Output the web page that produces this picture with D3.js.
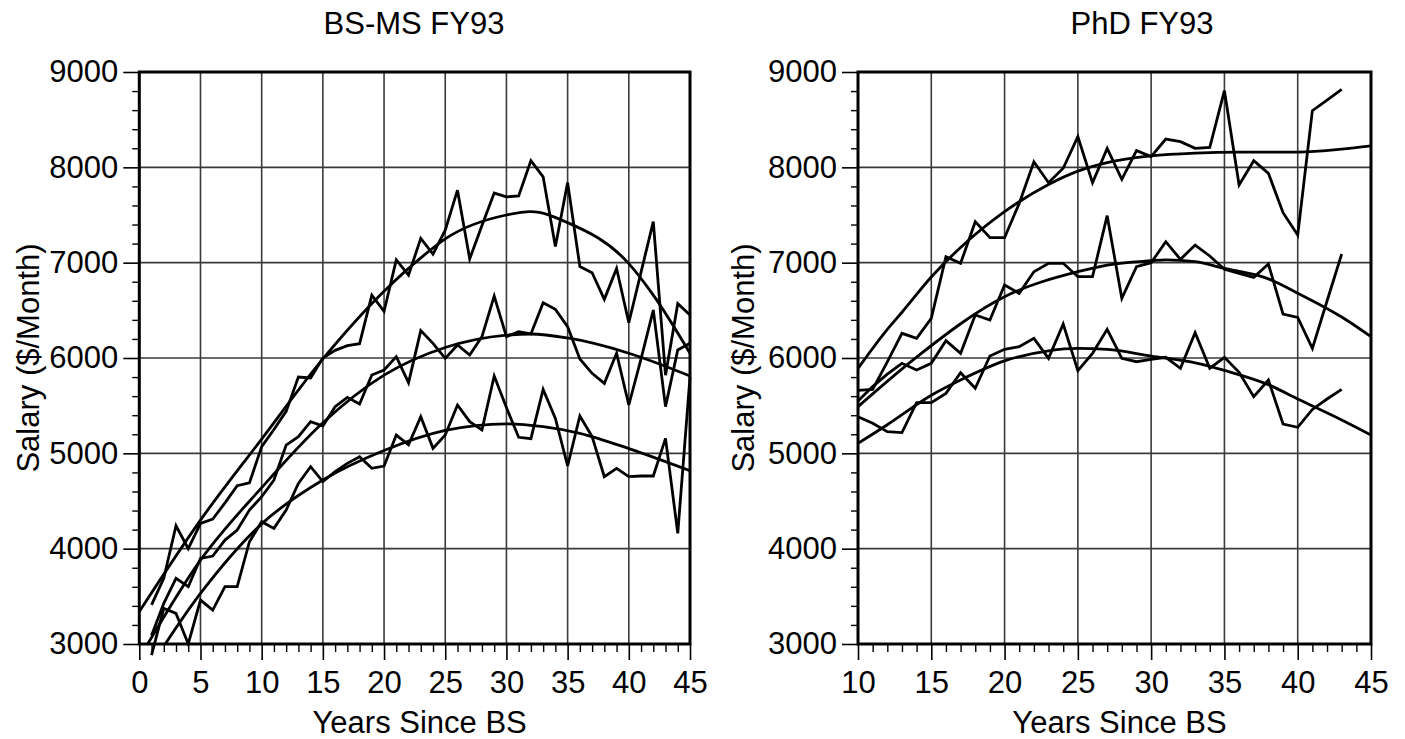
<!DOCTYPE html>
<html><head><meta charset="utf-8">
<script src="https://cdn.jsdelivr.net/npm/d3@7"></script>
<style>
body{margin:0;background:#fff}
svg{display:block}
text{font-family:"Liberation Sans",Arial,Helvetica,sans-serif;fill:#000}
</style>
</head><body>
<svg id="chart" width="1405" height="739"></svg>
<script>
// ---------- BS-MS FY93 ----------
const bsYears = [1,2,3,4,5,6,7,8,9,10,11,12,13,14,15,16,17,18,19,20,21,22,23,24,25,26,27,28,29,30,31,32,33,34,35,36,37,38,39,40,41,42,43,44,45];
const bsHigh = [3410,3690,4240,4000,4265,4310,4480,4660,4690,5070,5250,5440,5800,5790,6000,6080,6130,6150,6660,6490,7030,6870,7255,7090,7340,7760,7040,7390,7730,7690,7700,8070,7900,7170,7840,6960,6895,6615,6940,6370,6900,7430,5820,6570,6450];
const bsMid  = [3090,3426,3689,3601,3898,3923,4090,4196,4405,4545,4720,5087,5175,5332,5287,5489,5587,5517,5822,5874,6014,5741,6287,6154,5996,6136,6031,6224,6650,6224,6276,6252,6580,6510,6328,5990,5839,5734,6049,5507,5990,6503,5490,6084,6154];
const bsLow  = [2884,3374,3321,3000,3461,3356,3601,3601,4073,4283,4213,4405,4685,4860,4703,4808,4895,4965,4843,4867,5192,5090,5384,5052,5192,5507,5332,5245,5811,5480,5168,5154,5671,5367,4867,5392,5175,4755,4842,4755,4762,4762,5157,4161,5800];
const bsFitHighX = [0,5,10,15,20,23,25,30,32,35,40,42,45];
const bsFitHigh  = [3340,4300,5150,5990,6700,7050,7250,7500,7535,7420,6990,6660,6050];
const bsFitMidX  = [0,5,10,15,20,25,30,32,35,40,45];
const bsFitMid   = [2850,3880,4640,5320,5820,6110,6240,6252,6210,6050,5811];
const bsFitLowX  = [0,5,10,15,20,25,30,33,36,40,45];
const bsFitLow   = [2580,3530,4260,4720,5030,5240,5310,5280,5210,5050,4818];

// ---------- PhD FY93 ----------
const phdYears = [10,11,12,13,14,15,16,17,18,19,20,21,22,23,24,25,26,27,28,29,30,31,32,33,34,35,36,37,38,39,40,41,42,43];
const phdHigh = [5660,5670,5960,6259,6206,6416,7063,6993,7430,7262,7262,7622,8059,7839,7990,8322,7839,8199,7874,8175,8112,8297,8269,8199,8210,8804,7815,8070,7937,7524,7290,8594,8706,8818];
const phdMid  = [5550,5700,5830,5944,5874,5944,6182,6049,6451,6398,6766,6678,6905,6993,6993,6853,6853,7493,6626,6958,7000,7220,7035,7185,7070,6930,6888,6846,6986,6461,6426,6101,6598,7091];
const phdLow  = [5384,5315,5227,5217,5531,5531,5629,5846,5682,6021,6091,6119,6206,5996,6357,5867,6049,6301,5996,5961,5986,6007,5891,6266,5891,6007,5850,5594,5769,5307,5273,5460,5570,5671];
const phdFitHighX = [10,12,13,15,17,20,23,25,27,30,33,36,40,43,45];
const phdFitHigh  = [5890,6300,6480,6850,7160,7535,7820,7960,8050,8120,8150,8160,8160,8190,8225];
const phdFitMidX  = [10,14,20,25,27,30,31,33,35,38,40,43,45];
const phdFitMid   = [5490,6010,6643,6905,6975,7020,7030,7010,6940,6830,6680,6430,6224];
const phdFitLowX  = [10,12,15,17,20,23,25,27,30,33,35,38,40,43,45];
const phdFitLow   = [5105,5300,5610,5770,5970,6075,6100,6090,6020,5950,5870,5720,5570,5350,5192];

const yTicks = [3000,4000,5000,6000,7000,8000,9000];
const bsXTicks = [0,5,10,15,20,25,30,35,40,45];
const phdXTicks = [10,15,20,25,30,35,40,45];

const svg = d3.select('#chart');
const FS = 31;

const panels = [
  {title:'BS-MS FY93', titleX:414, x0:0, x1:45, left:139.3, right:690, xTicks:bsXTicks, ylabX:39,
   years:bsYears, raws:[bsHigh,bsMid,bsLow],
   fits:[[bsFitHighX,bsFitHigh],[bsFitMidX,bsFitMid],[bsFitLowX,bsFitLow]], id:'a'},
  {title:'PhD FY93', titleX:1142, x0:10, x1:45, left:858, right:1371, xTicks:phdXTicks, ylabX:754,
   years:phdYears, raws:[phdHigh,phdMid,phdLow],
   fits:[[phdFitHighX,phdFitHigh],[phdFitMidX,phdFitMid],[phdFitLowX,phdFitLow]], id:'b'}
];
const plotTop = 72, plotBottom = 644;

panels.forEach(p => {
  const x = d3.scaleLinear().domain([p.x0,p.x1]).range([p.left,p.right]);
  const y = d3.scaleLinear().domain([3000,9000]).range([plotBottom,plotTop]);
  const g = svg.append('g');

  svg.append('clipPath').attr('id','clip'+p.id).append('rect')
    .attr('x',p.left).attr('y',plotTop).attr('width',p.right-p.left).attr('height',plotBottom-plotTop);

  // grid
  g.append('g').selectAll('line').data(p.xTicks).join('line')
    .attr('x1',d=>x(d)).attr('x2',d=>x(d)).attr('y1',plotTop).attr('y2',plotBottom)
    .attr('stroke','#3a3a3a').attr('stroke-width',1.6);
  g.append('g').selectAll('line').data(yTicks).join('line')
    .attr('x1',p.left).attr('x2',p.right).attr('y1',d=>y(d)).attr('y2',d=>y(d))
    .attr('stroke','#3a3a3a').attr('stroke-width',1.6);

  // minor ticks
  const xMinor = d3.range(p.x0,p.x1+0.001,1).filter(v=>v%5!==0);
  const yMinor = d3.range(3000,9001,200).filter(v=>v%1000!==0);
  const axMinX = d3.axisBottom(x).tickValues(xMinor).tickSize(8).tickFormat('');
  const axMinY = d3.axisLeft(y).tickValues(yMinor).tickSize(7).tickFormat('');
  [g.append('g').attr('transform',`translate(0,${plotBottom})`).call(axMinX),
   g.append('g').attr('transform',`translate(${p.left},0)`).call(axMinY)].forEach(s=>{
     s.select('.domain').remove();
     s.selectAll('line').attr('stroke','#000').attr('stroke-width',1.4);
   });

  // major ticks + labels
  const axX = d3.axisBottom(x).tickValues(p.xTicks).tickSize(16).tickPadding(11).tickFormat(d3.format('d'));
  const axY = d3.axisLeft(y).tickValues(yTicks).tickSize(16).tickPadding(5).tickFormat(d3.format('d'));
  [g.append('g').attr('transform',`translate(0,${plotBottom})`).call(axX),
   g.append('g').attr('transform',`translate(${p.left},0)`).call(axY)].forEach(s=>{
     s.select('.domain').remove();
     s.selectAll('line').attr('stroke','#000').attr('stroke-width',1.6);
     s.selectAll('text').attr('font-size',FS).attr('font-family','"Liberation Sans",Arial,sans-serif').attr('fill','#000');
   });

  // fitted curves
  const lineFit = d3.line().x(d=>x(d[0])).y(d=>y(d[1])).curve(d3.curveMonotoneX);
  const fg = g.append('g').attr('clip-path',`url(#clip${p.id})`);
  p.fits.forEach(([xs,vs])=>{
    fg.append('path').datum(xs.map((v,i)=>[v,vs[i]]))
      .attr('d',lineFit).attr('fill','none').attr('stroke','#000').attr('stroke-width',2.8);
  });

  // raw lines
  const lineRaw = d3.line().x(d=>x(d[0])).y(d=>y(d[1]));
  p.raws.forEach(vs=>{
    g.append('path').datum(p.years.map((yr,i)=>[yr,vs[i]]))
      .attr('d',lineRaw).attr('fill','none').attr('stroke','#000').attr('stroke-width',2.8)
      .attr('stroke-linejoin','miter');
  });

  // frame
  g.append('rect').attr('x',p.left).attr('y',plotTop).attr('width',p.right-p.left).attr('height',plotBottom-plotTop)
    .attr('fill','none').attr('stroke','#000').attr('stroke-width',3);

  // titles
  g.append('text').attr('x',p.titleX).attr('y',34).attr('text-anchor','middle')
    .attr('font-size',FS).text(p.title);
  g.append('text').attr('x',(p.left+p.right)/2 + 5).attr('y',733).attr('text-anchor','middle')
    .attr('font-size',FS).text('Years Since BS');
  g.append('text').attr('transform',`translate(${p.ylabX},${(plotTop+plotBottom)/2}) rotate(-90)`)
    .attr('text-anchor','middle').attr('font-size',FS).text('Salary ($/Month)');
});
</script>
</body></html>
